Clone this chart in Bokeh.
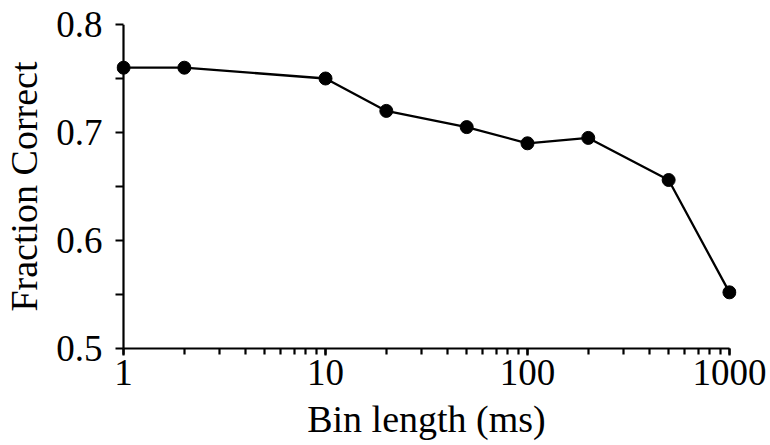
from bokeh.plotting import figure
from bokeh.embed import file_html
from bokeh.resources import INLINE
from bokeh.models import Range1d, FixedTicker, LogTicker, LinearAxis

bin_length_ms = [1, 2, 10, 20, 50, 100, 200, 500, 1000]
fraction_correct = [0.760, 0.760, 0.750, 0.720, 0.705, 0.690, 0.695, 0.656, 0.552]
y_ticks = [0.5, 0.6, 0.7, 0.8]
y_minor_ticks = [0.55, 0.65, 0.75]
x_ticks = [1, 10, 100, 1000]

FONT = "Liberation Serif"
pad = 10 ** 0.035

p = figure(width=770, height=445, x_axis_type="log",
           x_range=Range1d(1 / pad, 1000 * pad), y_range=Range1d(0.5, 0.8),
           output_backend="svg", toolbar_location=None,
           frame_width=620, frame_height=324,
           min_border_left=114, min_border_top=24, min_border_right=36, min_border_bottom=97)
p.outline_line_color = None
p.xgrid.visible = False
p.ygrid.visible = False
p.background_fill_color = "white"
p.border_fill_color = "white"

p.line(bin_length_ms, fraction_correct, line_color="black", line_width=2.3)
p.scatter(bin_length_ms, fraction_correct, size=13, fill_color="black", line_color="black")


def style(ax):
    ax.axis_line_width = 2.2
    ax.axis_line_color = "black"
    ax.major_tick_line_width = 2.2
    ax.minor_tick_line_width = 2.2
    ax.major_tick_line_color = "black"
    ax.minor_tick_line_color = "black"
    ax.major_tick_out = 7
    ax.major_tick_in = 0
    ax.minor_tick_out = 6
    ax.minor_tick_in = 0
    ax.major_label_text_font = FONT
    ax.major_label_text_font_size = "37px"
    ax.major_label_text_color = "black"
    ax.axis_label_text_font = FONT
    ax.axis_label_text_font_size = "38px"
    ax.axis_label_text_font_style = "normal"
    ax.axis_label_text_color = "black"


style(p.xaxis[0])
style(p.yaxis[0])

p.xaxis.ticker = LogTicker(desired_num_ticks=4, num_minor_ticks=10)
p.xaxis.bounds = (1, 1000)
p.xaxis.major_label_overrides = {1: "1", 10: "10", 100: "100", 1000: "1000"}
p.xaxis.axis_label = "Bin length (ms)"
p.xaxis.major_label_standoff = 4
p.xaxis.axis_label_standoff = 10

# y axis at the frame edge: labels, axis label and ticks reaching to x = 1
ylab = p.yaxis[0]
ylab.ticker = FixedTicker(ticks=y_ticks, minor_ticks=y_minor_ticks)
ylab.axis_line_color = None
ylab.major_tick_in = 7
ylab.major_tick_out = 1
ylab.minor_tick_in = 7
ylab.minor_tick_out = 1
ylab.axis_label = "Fraction Correct"
ylab.major_label_standoff = 13
ylab.axis_label_standoff = 8

# axis rule placed at x = 1
yline = LinearAxis(fixed_location=1, bounds=(0.5, 0.8),
                   ticker=FixedTicker(ticks=y_ticks))
style(yline)
yline.major_tick_line_color = None
yline.minor_tick_line_color = None
yline.major_label_text_alpha = 0
p.add_layout(yline, "left")

open("out.html", "w").write(file_html(p, INLINE))
